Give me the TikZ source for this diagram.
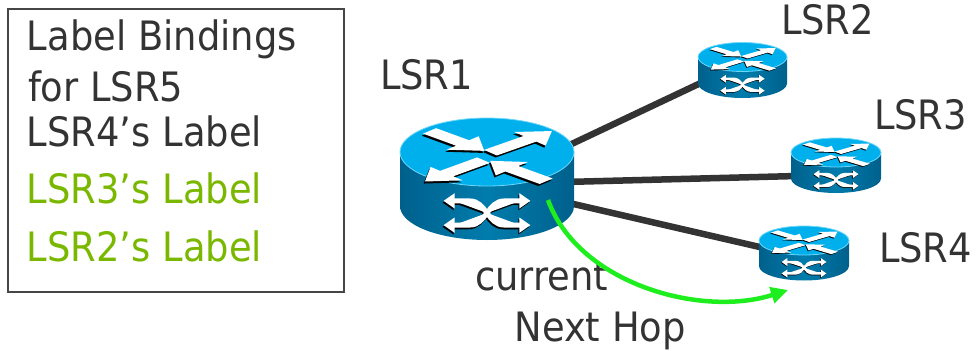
\documentclass[tikz,border=0pt]{standalone}
\usepackage{fontspec}
\setmainfont{DejaVu Sans}[FakeStretch=0.91]
\usetikzlibrary{arrows.meta}
\definecolor{tgray}{RGB}{51,51,51}
\definecolor{tgreen}{RGB}{122,184,0}
\definecolor{lgreen}{RGB}{30,238,30}
\definecolor{rtopc}{RGB}{0,176,236}
\definecolor{rrimc}{RGB}{110,215,250}
\definecolor{rsidec}{RGB}{0,124,172}
\definecolor{rsided}{RGB}{0,96,140}
\definecolor{boxc}{RGB}{70,70,70}
\pgfdeclarelayer{bg}
\pgfsetlayers{bg,main}
\tikzset{
  rbox/.style={rectangle, inner sep=0pt, outer sep=0pt},
  txt/.style={anchor=base west, inner sep=0pt, outer sep=0pt, text=tgray, font=\fontsize{40.5}{48}\selectfont},
  gtxt/.style={txt, text=tgreen},
  link/.style={draw=tgray, line width=6.5pt},
  nexthop/.style={draw=lgreen, line width=4.5pt, -{Triangle[length=17pt,width=16pt]}},
  labelbox/.style={draw=boxc, line width=1.5pt, rectangle, inner sep=0pt, minimum width=336pt, minimum height=283pt},
  sidearrow/.style={line width=\rlw pt, {Triangle[length=0pt 2.3,width=0pt 3]}-{Triangle[length=0pt 2.3,width=0pt 3]}},
}
\newcommand{\arrpoly}[1]{(0,0.11) -- ({#1-0.34},0.11) -- ({#1-0.34},0.27) -- (#1,0) -- ({#1-0.34},-0.27) -- ({#1-0.34},-0.11) -- (0,-0.11) -- cycle}
\newcommand{\tarr}[4]{%
  \begin{scope}[shift={({#1-0.015},{#2-0.06})}, rotate=#3]
    \fill[black] \arrpoly{#4};
  \end{scope}
  \begin{scope}[shift={(#1,#2)}, rotate=#3]
    \fill[white] \arrpoly{#4};
  \end{scope}}
\newcommand{\rtr}[6]{%
  \node[rbox, minimum width=#4*2pt, minimum height={(2*#5+#6)*1pt}] (#1) at (#2,{-#3-#6/2}) {};
  \pgfmathsetmacro\rH{#6/#5}
  \pgfmathsetmacro\rlw{#4/18}
  \pgfmathsetmacro\rc{-1-\rH/2}
  \pgfmathsetmacro\ra{\rc+0.225*\rH}
  \pgfmathsetmacro\rb{\rc-0.225*\rH}
  \begin{scope}[shift={(#2,-#3)}, xscale=#4, yscale=#5]
    \shade[left color=rsided, right color=rsided, middle color=rsidec] (-1,0) -- (-1,-\rH) arc[start angle=180, end angle=360, radius=1] -- (1,0) -- cycle;
    \fill[rtopc] (0,0) circle[radius=1];
    \draw[rrimc, line width=0.8pt] (0,0) circle[radius=1];
    \tarr{-0.66}{0.62}{-43}{0.86}
    \tarr{0.04}{-0.02}{42}{0.95}
    \tarr{-0.04}{-0.24}{223}{0.92}
    \tarr{0.68}{-0.86}{137}{0.88}
    \foreach \col/\dx/\dy in {black/-0.012/-0.05, white/0/0} {
      \draw[sidearrow, draw=\col, fill=\col] ({-0.5+(\dx)},{\ra+(\dy)}) -- ({-0.2+(\dx)},{\ra+(\dy)}) .. controls ({\dx},{\ra+(\dy)}) and ({\dx},{\rb+(\dy)}) .. ({0.2+(\dx)},{\rb+(\dy)}) -- ({0.5+(\dx)},{\rb+(\dy)});
      \draw[sidearrow, draw=\col, fill=\col] ({-0.5+(\dx)},{\rb+(\dy)}) -- ({-0.2+(\dx)},{\rb+(\dy)}) .. controls ({\dx},{\rb+(\dy)}) and ({\dx},{\ra+(\dy)}) .. ({0.2+(\dx)},{\ra+(\dy)}) -- ({0.5+(\dx)},{\ra+(\dy)});
    }
  \end{scope}}
\begin{document}
\begin{tikzpicture}[x=1pt, y=1pt]
\useasboundingbox (0,0) rectangle (978,-351);
% label box
\node[labelbox] (box) at (176,-150.5) {};
\node[txt]  (t1) at (27,-50)    {Label Bindings};
\node[txt]  (t2) at (28,-101.7) {for LSR5};
\node[txt]  (t3) at (27,-146)   {LSR4’s Label};
\node[gtxt] (t4) at (27,-203.3) {LSR3’s Label};
\node[gtxt] (t5) at (27,-261.7) {LSR2’s Label};
% routers
\rtr{r1}{487}{152}{87}{34}{54}
\rtr{r2}{742.5}{57}{44.5}{14.5}{26.5}
\rtr{r3}{836}{152.5}{45}{14.5}{26}
\rtr{r4}{804}{240.5}{45}{14.5}{25.5}
% links behind routers
\begin{pgfonlayer}{bg}
  \draw[link] ([yshift=-5pt]r1.center) -- ([yshift=7pt]r2.center);
  \draw[link] ([yshift=-5pt]r1.center) -- ([yshift=-9.5pt]r3.center);
  \draw[link] ([yshift=-5pt]r1.center) -- ([yshift=-4pt]r4.center);
\end{pgfonlayer}
% router labels
\node[txt] (l1) at (380,-89.5) {LSR1};
\node[txt] (l2) at (781,-34)   {LSR2};
\node[txt] (l3) at (874,-129)  {LSR3};
\node[txt] (l4) at (879,-262)  {LSR4};
\node[txt] (c1) at (475,-290)  {current};
\node[txt] (c2) at (514.5,-341) {Next Hop};
% next hop arrow
\coordinate (gs) at ([shift={(61pt,-21pt)}]r1.center);
\coordinate (ge) at ([shift={(-16pt,-36.75pt)}]r4.center);
\draw[nexthop] (gs) .. controls +(30,-83) and +(-88,-28) .. (ge);
\end{tikzpicture}
\end{document}
